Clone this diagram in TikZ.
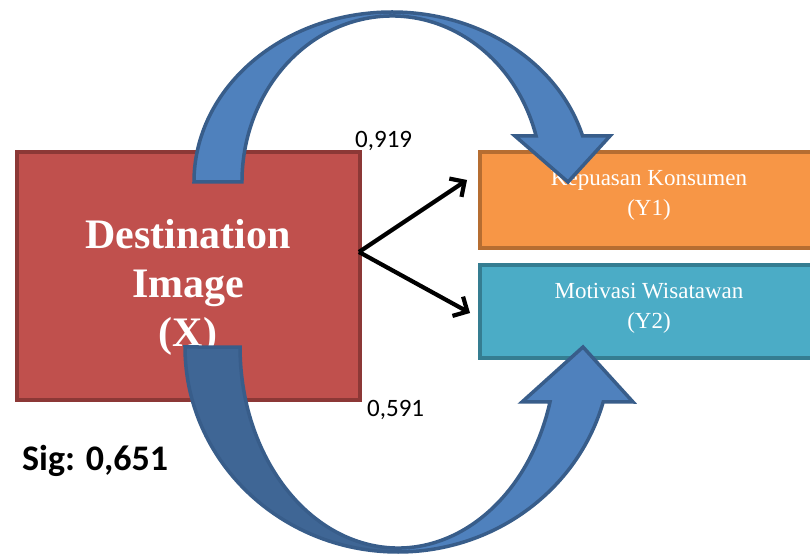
\documentclass[tikz,border=0pt]{standalone}
\usepackage{fontspec}
\setmainfont{Liberation Serif}
\newfontfamily\calibri{Carlito}
\usetikzlibrary{arrows.meta}
\definecolor{redfill}{HTML}{C0504D}
\definecolor{redline}{HTML}{8C3836}
\definecolor{orfill}{HTML}{F79646}
\definecolor{orline}{HTML}{B66D31}
\definecolor{tlfill}{HTML}{4BACC6}
\definecolor{tlline}{HTML}{357D91}
\definecolor{blfill}{HTML}{4F81BD}
\definecolor{bldark}{HTML}{3F6695}
\definecolor{blline}{HTML}{385D8A}
\tikzset{
  boxbase/.style={rectangle, inner sep=0pt, line width=4pt},
  redbox/.style={boxbase, draw=redline, fill=redfill, minimum width=343pt, minimum height=248pt},
  orbox/.style={boxbase, draw=orline, fill=orfill, minimum width=342pt, minimum height=96pt},
  tlbox/.style={boxbase, draw=tlline, fill=tlfill, minimum width=342pt, minimum height=93pt},
  xtext/.style={text=white, align=center, inner sep=0pt, font=\fontsize{42}{49}\selectfont\bfseries},
  ytext/.style={text=white, align=center, inner sep=0pt, font=\fontsize{23}{30}\selectfont},
  coef/.style={inner sep=0pt, anchor=base west, font=\calibri\fontsize{25}{30}\selectfont},
  sigtext/.style={inner sep=0pt, anchor=base west, font=\calibri\bfseries\fontsize{36}{42}\selectfont},
  link/.style={line width=4.2pt, -{Straight Barb[length=11pt,width=22pt,line width=4.2pt]}},
  blockarrow/.style={draw=blline, line width=3.5pt, line join=miter},
}
\begin{document}
\begin{tikzpicture}[x=1pt,y=1pt]
\useasboundingbox (0,0) rectangle (810,554);
\fill[white] (0,0) rectangle (810,554);

% boxes
\node[redbox] (X) at (188.5,278) {};
\node[orbox] (Y1) at (651,354) {};
\node[tlbox] (Y2) at (651,242.5) {};

% texts
\node[xtext] (Xt) at (188,267) {Destination\\Image\\(X)};
\node[ytext] (Y1t) at (649,359) {Kepuasan Konsumen\\(Y1)};
\node[ytext] (Y2t) at (649,246) {Motivasi Wisatawan\\(Y2)};

% black arrows
\coordinate (src) at (359,302);
\coordinate (t1) at (467,374);
\coordinate (t2) at (470,241);
\draw[link] (src) -- (t1);
\draw[link] (src) -- (t2);

% labels
\node[coef] (c1) at (355,406) {0,919};
\node[coef] (c2) at (367,137) {0,591};
\node[sigtext] (sig) at (22,84) {Sig: 0,651};

% top curved arrow
\path[blockarrow, fill=blfill]
  (194,372) arc[start angle=180, end angle=15.7, x radius=198pt, y radius=170pt]
  -- (610,418) -- (568,372) -- (515,418) -- (536.1,418)
  arc[start angle=16.09, end angle=180, x radius=150pt, y radius=166pt]
  -- cycle;

% bottom curved arrow
\fill[blfill]
  (185,207) arc[start angle=180, end angle=344.44, x radius=213pt, y radius=205pt]
  -- (633,152) -- (583,207) -- (522,152) -- (550,152)
  arc[start angle=344.12, end angle=180, x radius=158pt, y radius=201pt]
  -- cycle;
\fill[bldark]
  (185,207) arc[start angle=180, end angle=270, x radius=213pt, y radius=205pt]
  -- (398,6) arc[start angle=270, end angle=180, x radius=158pt, y radius=201pt]
  -- cycle;
\draw[blockarrow]
  (185,207) arc[start angle=180, end angle=344.44, x radius=213pt, y radius=205pt]
  -- (633,152) -- (583,207) -- (522,152) -- (550,152)
  arc[start angle=344.12, end angle=180, x radius=158pt, y radius=201pt]
  -- cycle;
\end{tikzpicture}
\end{document}
